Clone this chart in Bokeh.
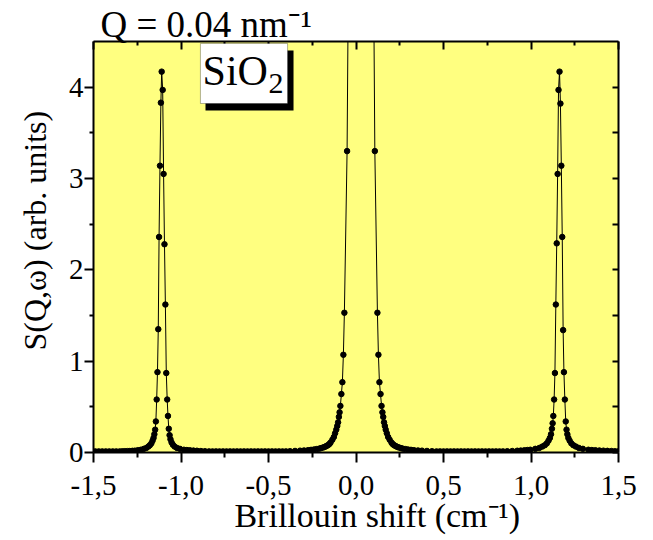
import math
from bokeh.plotting import figure
from bokeh.models import (FixedTicker, LinearAxis, Range1d, Label, BoxAnnotation,
                          ColumnDataSource, Title)
from bokeh.embed import file_html
from bokeh.resources import INLINE

# ---------------- data ----------------
base_left_shift = [-1.49, -1.47, -1.45, -1.43, -1.41, -1.39, -1.37, -1.35, -1.335]
base_left_int = [0.012, 0.012, 0.012, 0.012, 0.012, 0.012, 0.012, 0.012, 0.013]

peak1_shift = [-1.3209, -1.3066, -1.2923, -1.2780, -1.2637, -1.2466, -1.2294, -1.2122,
               -1.1979, -1.1865, -1.1779, -1.1693, -1.1625, -1.1568, -1.1522, -1.1476,
               -1.1436, -1.1390, -1.1344, -1.1299, -1.1253, -1.1201, -1.1150, -1.1104,
               -1.1047, -1.0995, -1.0944, -1.0892, -1.0841, -1.0789, -1.0744, -1.0698,
               -1.0652, -1.0601, -1.0538, -1.0463, -1.0366, -1.0234, -1.0063, -0.9834,
               -0.9663, -0.9491, -0.9290, -0.9090, -0.8862, -0.8633]
peak1_int = [0.014, 0.015, 0.016, 0.018, 0.02, 0.025, 0.03, 0.04,
             0.05, 0.065, 0.08, 0.10, 0.13, 0.16, 0.20, 0.25,
             0.34, 0.58, 0.88, 1.35, 2.36, 3.14, 3.83, 4.17,
             3.97, 3.05, 2.28, 1.62, 0.87, 0.58, 0.40, 0.26,
             0.19, 0.145, 0.11, 0.085, 0.065, 0.05, 0.04, 0.03,
             0.027, 0.024, 0.021, 0.019, 0.016, 0.014]

base_mid1_shift = [-0.84, -0.82, -0.80, -0.78, -0.76, -0.74, -0.72, -0.70, -0.68, -0.66,
                   -0.64, -0.62, -0.60, -0.58, -0.56, -0.54, -0.52, -0.50, -0.48, -0.46,
                   -0.44, -0.42, -0.40]
base_mid1_int = [0.012] * 23

central_shift = [-0.3770, -0.3484, -0.3198, -0.2969, -0.2740, -0.2568, -0.2397, -0.2254,
                 -0.2111, -0.1997, -0.1882, -0.1797, -0.1711, -0.1640, -0.1568, -0.1510,
                 -0.1453, -0.1350, -0.1264, -0.1196, -0.1127, -0.1070, -0.1024, -0.0978,
                 -0.0938, -0.0892, -0.0835, -0.0778, -0.0721, -0.0664, -0.0509, -0.0309,
                 0.0292,
                 0.0881, 0.1076, 0.1224, 0.1281, 0.1339, 0.1402, 0.1459, 0.1510,
                 0.1556, 0.1602, 0.1648, 0.1699, 0.1762, 0.1836, 0.1922, 0.2025,
                 0.2082, 0.2140, 0.2212, 0.2283, 0.2369, 0.2454, 0.2569, 0.2683,
                 0.2826, 0.2969, 0.3141, 0.3312, 0.3541, 0.3770, 0.4056, 0.4342]
central_int = [0.014, 0.017, 0.02, 0.022, 0.025, 0.029, 0.033, 0.037,
               0.042, 0.048, 0.055, 0.061, 0.068, 0.076, 0.085, 0.095,
               0.11, 0.14, 0.17, 0.21, 0.25, 0.29, 0.33, 0.39,
               0.44, 0.51, 0.64, 0.77, 1.07, 1.53, 3.30, 8.5,
               30.0,
               8.5, 3.30, 1.53, 1.07, 0.77, 0.64, 0.51, 0.44,
               0.39, 0.33, 0.29, 0.25, 0.21, 0.17, 0.14, 0.11,
               0.095, 0.085, 0.076, 0.068, 0.061, 0.055, 0.048, 0.042,
               0.037, 0.033, 0.029, 0.025, 0.022, 0.02, 0.017, 0.014]

base_mid2_shift = [0.46, 0.48, 0.50, 0.52, 0.54, 0.56, 0.58, 0.60, 0.62, 0.64,
                   0.66, 0.68, 0.70, 0.72, 0.74, 0.76, 0.78, 0.80, 0.82, 0.84]
base_mid2_int = [0.012] * 20

peak2_shift = [0.8644, 0.8930, 0.9216, 0.9417, 0.9617, 0.9789, 0.9960, 1.0246,
               1.0475, 1.0646, 1.0789, 1.0904, 1.1001, 1.1081, 1.1144, 1.1196,
               1.1236, 1.1276, 1.1321, 1.1367, 1.1419, 1.1470, 1.1522, 1.1573,
               1.1630, 1.1682, 1.1733, 1.1785, 1.1836, 1.1882, 1.1934, 1.1985,
               1.2031, 1.2077, 1.2134, 1.2208, 1.2305, 1.2420, 1.2563, 1.2735,
               1.2963, 1.3278, 1.3479, 1.3679, 1.3908, 1.4136, 1.4365, 1.4594,
               1.4794, 1.4994]
peak2_int = [0.014, 0.016, 0.019, 0.021, 0.024, 0.027, 0.03, 0.04,
             0.05, 0.065, 0.08, 0.10, 0.13, 0.16, 0.20, 0.26,
             0.32, 0.40, 0.58, 0.87, 1.62, 2.29, 3.05, 3.97,
             4.17, 3.82, 3.14, 2.36, 1.34, 0.88, 0.58, 0.34,
             0.25, 0.20, 0.16, 0.13, 0.10, 0.08, 0.065, 0.05,
             0.04, 0.03, 0.027, 0.025, 0.022, 0.02, 0.018, 0.016,
             0.014, 0.013]

shift = base_left_shift + peak1_shift + base_mid1_shift + central_shift + base_mid2_shift + peak2_shift
intensity = base_left_int + peak1_int + base_mid1_int + central_int + base_mid2_int + peak2_int

x_ticks = [-1.5, -1.0, -0.5, 0.0, 0.5, 1.0, 1.5]
x_tick_labels = ["-1,5", "-1,0", "-0,5", "0,0", "0,5", "1,0", "1,5"]
x_minor_ticks = [-1.25, -0.75, -0.25, 0.25, 0.75, 1.25]
y_ticks = [0, 1, 2, 3, 4]
y_tick_labels = ["0", "1", "2", "3", "4"]
y_minor_ticks = [0.5, 1.5, 2.5, 3.5]

title_text = "Q = 0.04 nm\u207b\u00b9"
x_label_text = "Brillouin shift (cm\u207b\u00b9)"
y_label_text = "S(Q,\u03c9) (arb. units)"
box_text = "SiO"
box_sub = "2"

FONT = "Liberation Serif"

# ---------------- figure ----------------
p = figure(width=653, height=540, output_backend="svg", toolbar_location=None, title=None,
           x_range=Range1d(-1.5, 1.5), y_range=Range1d(0, 4.5),
           min_border_left=93, min_border_right=35, min_border_top=41, min_border_bottom=88)
p.background_fill_color = "#FFFF80"
p.border_fill_color = "white"
p.outline_line_color = None
p.grid.visible = False

xt = FixedTicker(ticks=x_ticks, minor_ticks=x_minor_ticks)
yt = FixedTicker(ticks=y_ticks, minor_ticks=y_minor_ticks)

def style_axis(ax):
    ax.axis_line_color = "black"
    ax.axis_line_width = 2
    ax.major_tick_line_color = "black"
    ax.major_tick_line_width = 2
    ax.minor_tick_line_color = "black"
    ax.minor_tick_line_width = 2
    ax.major_label_text_font = FONT
    ax.major_label_text_color = "black"

xa = p.xaxis[0]
xa.ticker = xt
style_axis(xa)
xa.major_tick_out = 10
xa.major_tick_in = 0
xa.minor_tick_out = 5
xa.minor_tick_in = 0
xa.major_label_text_font_size = "29px"
xa.major_label_standoff = 13
xa.major_label_overrides = dict(zip(x_ticks, x_tick_labels))
xa.axis_label = "\u00a0" * 5 + x_label_text
xa.axis_label_text_font = FONT
xa.axis_label_text_font_size = "34px"
xa.axis_label_text_font_style = "normal"
xa.axis_label_text_color = "black"
xa.axis_label_standoff = -1

ya = p.yaxis[0]
ya.ticker = yt
style_axis(ya)
ya.major_tick_out = 9
ya.major_tick_in = 0
ya.minor_tick_out = 4
ya.minor_tick_in = 0
ya.major_label_text_font_size = "29px"
ya.major_label_standoff = 1
ya.major_label_overrides = {float(k): v for k, v in zip(y_ticks, y_tick_labels)}

top = LinearAxis(ticker=FixedTicker(ticks=x_ticks, minor_ticks=x_minor_ticks))
style_axis(top)
top.major_tick_in = 8
top.major_tick_out = 0
top.minor_tick_in = 4
top.minor_tick_out = 0
top.major_label_text_color = None
top.major_label_text_font_size = "1px"
top.major_label_standoff = 0
p.add_layout(top, "above")

right = LinearAxis(ticker=FixedTicker(ticks=y_ticks, minor_ticks=y_minor_ticks))
style_axis(right)
right.major_tick_in = 6
right.major_tick_out = 0
right.minor_tick_in = 6
right.minor_tick_out = 0
right.major_label_text_color = None
right.major_label_text_font_size = "1px"
right.major_label_standoff = 0
p.add_layout(right, "right")

# titles placed in the side panels (outside the frame)
p.add_layout(Title(text=title_text, align="left", offset=7, standoff=-6,
                   text_font=FONT, text_font_size="37px", text_font_style="normal",
                   text_color="black"), "above")
p.add_layout(Title(text=y_label_text, align="left", offset=102, standoff=26,
                   text_font=FONT, text_font_size="32px", text_font_style="normal",
                   text_color="black"), "left")

src = ColumnDataSource(dict(shift=shift, intensity=intensity))
p.line(x="shift", y="intensity", source=src, line_color="black", line_width=1)
p.scatter(x="shift", y="intensity", source=src, size=5.5, color="black")

# ---------------- SiO2 box ----------------
p.add_layout(BoxAnnotation(left=-0.860, right=-0.357, top=4.402, bottom=3.745,
                           fill_color="black", fill_alpha=1, line_color=None))
p.add_layout(BoxAnnotation(left=-0.889, right=-0.391, top=4.478, bottom=3.821,
                           fill_color="white", fill_alpha=1, line_color="black", line_width=1))
p.add_layout(Label(x=-0.877, y=4.172, text=box_text, text_font=FONT, text_font_size="42px",
                   text_color="black", text_baseline="alphabetic", text_align="left"))
p.add_layout(Label(x=-0.500, y=4.035, text=box_sub, text_font=FONT, text_font_size="30px",
                   text_color="black", text_baseline="alphabetic", text_align="left"))

open("out.html", "w").write(file_html(p, INLINE))
